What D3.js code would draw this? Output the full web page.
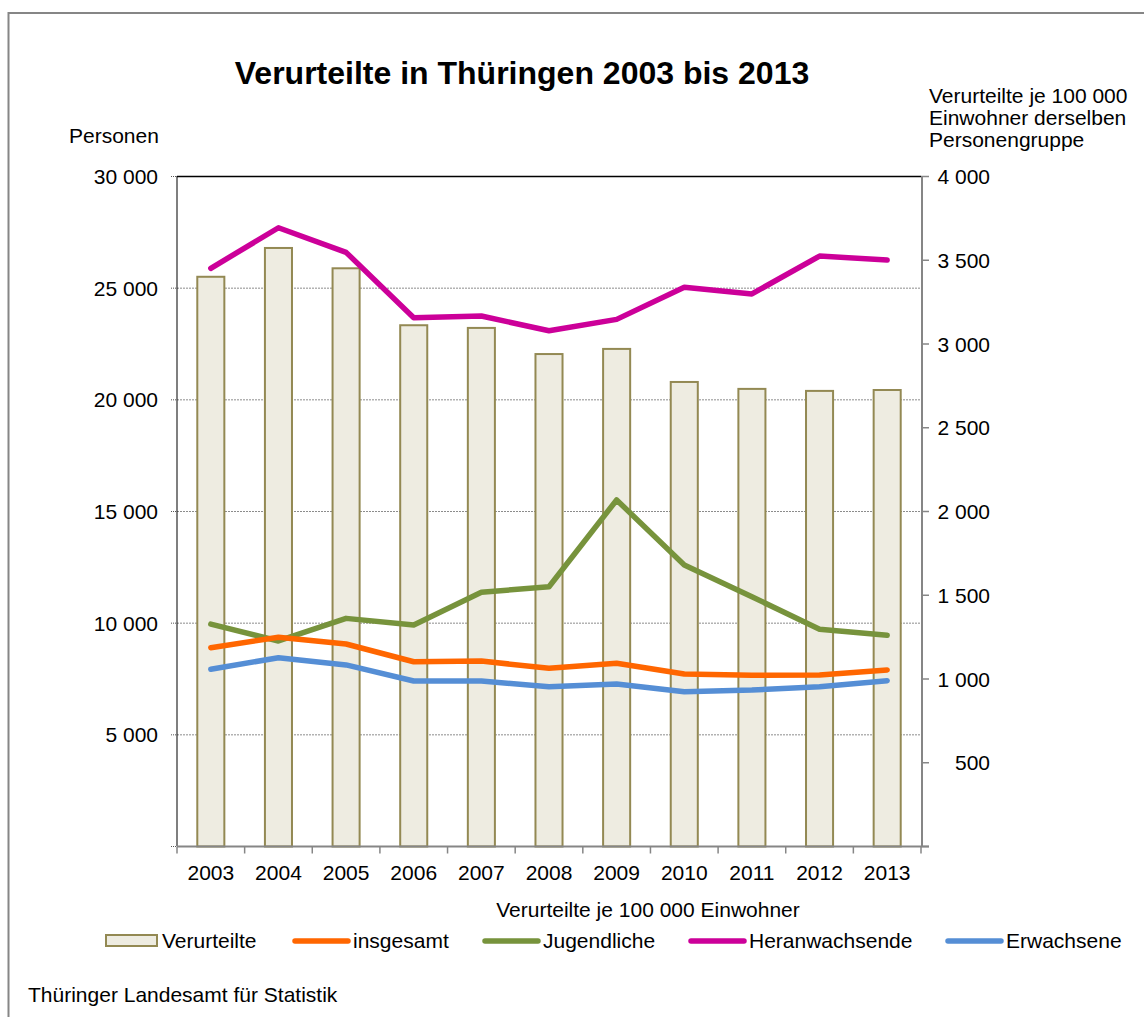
<!DOCTYPE html>
<html>
<head>
<meta charset="utf-8">
<script src="https://cdn.jsdelivr.net/npm/d3@7"></script>
<style>
  body { margin: 0; background: #fff; }
  svg text { font-family: "Liberation Sans", Arial, sans-serif; fill: #000; }
</style>
</head>
<body>
<div class="chart"></div>
<script>
// data
var years = ['2003','2004','2005','2006','2007','2008','2009','2010','2011','2012','2013'];
var verurteilte = [25510, 26800, 25890, 23340, 23220, 22050, 22280, 20800, 20490, 20400, 20440];
var insgesamt = [1187, 1249, 1209, 1103, 1107, 1064, 1094, 1030, 1022, 1024, 1054];
var jugendliche = [1328, 1227, 1362, 1322, 1518, 1551, 2069, 1681, 1491, 1297, 1261];
var heranwachsende = [3452, 3694, 3547, 3157, 3167, 3079, 3147, 3339, 3299, 3525, 3501];
var erwachsene = [1058, 1127, 1084, 988, 988, 954, 970, 924, 934, 954, 990];
var leftTicks = [0, 5000, 10000, 15000, 20000, 25000, 30000];
var rightTicks = [500, 1000, 1500, 2000, 2500, 3000, 3500, 4000];

var lineSeries = [
  {name: 'insgesamt', values: insgesamt, color: '#FF6600'},
  {name: 'Jugendliche', values: jugendliche, color: '#77933C'},
  {name: 'Heranwachsende', values: heranwachsende, color: '#CC0099'},
  {name: 'Erwachsene', values: erwachsene, color: '#558ED5'}
];

var W = 1144, H = 1017;
var m = {left: 177, right: 921, top: 176.5, bottom: 846.5};
var fs = '21px';

var svg = d3.select('.chart').append('svg')
  .attr('width', W)
  .attr('height', H);

// outer frame
svg.append('rect')
  .attr('x', 8.5).attr('y', 13)
  .attr('width', 1150).attr('height', 1020)
  .style('fill', 'none').style('stroke', '#868686').style('stroke-width', 2);

var xOuter = d3.scaleBand().domain(years).range([m.left, m.right]);
var yL = d3.scaleLinear().domain([0, 30000]).range([m.bottom, m.top]);
var yR = d3.scaleLinear().domain([0, 4000]).range([m.bottom, m.top]);

var fmt = function(v){ return d3.format(',')(v).replace(/,/g, ' '); };

// grid lines
svg.selectAll('line.grid')
  .data(leftTicks.filter(function(d){ return d > 0 && d < 30000; }))
  .enter().append('line')
  .attr('class', 'grid')
  .attr('x1', m.left).attr('x2', m.right)
  .attr('y1', function(d){ return yL(d); })
  .attr('y2', function(d){ return yL(d); })
  .style('stroke', '#8c8c8c').style('stroke-width', 1).style('stroke-dasharray', '2,1');

// bars
svg.selectAll('rect.bar')
  .data(verurteilte)
  .enter().append('rect')
  .attr('class', 'bar')
  .attr('x', function(d, i){ return xOuter(years[i]) + xOuter.bandwidth() * 0.3; })
  .attr('width', xOuter.bandwidth() * 0.4)
  .attr('y', function(d){ return yL(d); })
  .attr('height', function(d){ return m.bottom - yL(d); })
  .style('fill', '#EEECE1').style('stroke', '#938953').style('stroke-width', 2);

// top border
svg.append('line')
  .attr('x1', m.left).attr('x2', m.right)
  .attr('y1', m.top).attr('y2', m.top)
  .style('stroke', '#000').style('stroke-width', 1.5);

// left axis (dotted)
var leftAxis = svg.append('g');
leftAxis.append('line')
  .attr('x1', m.left).attr('x2', m.left)
  .attr('y1', m.top).attr('y2', m.bottom)
  .style('stroke', '#000').style('stroke-width', 2).style('stroke-dasharray', '1,1');
leftAxis.selectAll('line.tick')
  .data(leftTicks).enter().append('line')
  .attr('x1', m.left - 6).attr('x2', m.left)
  .attr('y1', function(d){ return yL(d); })
  .attr('y2', function(d){ return yL(d); })
  .style('stroke', '#555').style('stroke-width', 1).style('stroke-dasharray', '1,1');
leftAxis.selectAll('text')
  .data(leftTicks.filter(function(d){ return d > 0; })).enter().append('text')
  .attr('x', 158)
  .attr('y', function(d){ return yL(d) + 7.5; })
  .attr('text-anchor', 'end')
  .style('font-size', fs)
  .text(function(d){ return fmt(d); });

// right axis
var rightAxis = svg.append('g');
rightAxis.append('line')
  .attr('x1', m.right + 1).attr('x2', m.right + 1)
  .attr('y1', m.top).attr('y2', m.bottom)
  .style('stroke', '#868686').style('stroke-width', 2);
rightAxis.selectAll('line.tick')
  .data([0].concat(rightTicks)).enter().append('line')
  .attr('x1', m.right).attr('x2', m.right + 8)
  .attr('y1', function(d){ return yR(d); })
  .attr('y2', function(d){ return yR(d); })
  .style('stroke', '#868686').style('stroke-width', 1.5);
rightAxis.selectAll('text')
  .data(rightTicks).enter().append('text')
  .attr('x', 990)
  .attr('y', function(d){ return yR(d) + 7.5; })
  .attr('text-anchor', 'end')
  .style('font-size', fs)
  .text(function(d){ return fmt(d); });

// bottom axis
svg.append('line')
  .attr('x1', m.left).attr('x2', m.right + 8)
  .attr('y1', m.bottom).attr('y2', m.bottom)
  .style('stroke', '#868686').style('stroke-width', 2);
svg.selectAll('line.xtick')
  .data(years.concat(['end'])).enter().append('line')
  .attr('class', 'xtick')
  .attr('x1', function(d, i){ return m.left + i * xOuter.step(); })
  .attr('x2', function(d, i){ return m.left + i * xOuter.step(); })
  .attr('y1', m.bottom).attr('y2', m.bottom + 7)
  .style('stroke', '#868686').style('stroke-width', 1.5);
svg.selectAll('text.xlab')
  .data(years).enter().append('text')
  .attr('class', 'xlab')
  .attr('x', function(d){ return xOuter(d) + xOuter.bandwidth() / 2; })
  .attr('y', 880)
  .attr('text-anchor', 'middle')
  .style('font-size', fs)
  .text(function(d){ return d; });

// lines
var line = d3.line()
  .x(function(d, i){ return xOuter(years[i]) + xOuter.bandwidth() / 2; })
  .y(function(d){ return yR(d); });

svg.selectAll('path.series')
  .data([lineSeries[2], lineSeries[1], lineSeries[0], lineSeries[3]])
  .enter().append('path')
  .attr('class', 'series')
  .attr('d', function(d){ return line(d.values); })
  .style('fill', 'none')
  .style('stroke', function(d){ return d.color; })
  .style('stroke-width', 5.5)
  .style('stroke-linecap', 'round')
  .style('stroke-linejoin', 'round');

// titles
svg.append('text')
  .attr('x', 522).attr('y', 84)
  .attr('text-anchor', 'middle')
  .style('font-size', '32px').style('font-weight', 'bold')
  .text('Verurteilte in Thüringen 2003 bis 2013');

svg.append('text')
  .attr('x', 69).attr('y', 143)
  .style('font-size', fs)
  .text('Personen');

var rTitle = ['Verurteilte je 100 000', 'Einwohner derselben', 'Personengruppe'];
svg.selectAll('text.rtitle')
  .data(rTitle).enter().append('text')
  .attr('class', 'rtitle')
  .attr('x', 929)
  .attr('y', function(d, i){ return 103 + i * 22; })
  .style('font-size', fs)
  .text(function(d){ return d; });

svg.append('text')
  .attr('x', 648).attr('y', 917)
  .attr('text-anchor', 'middle')
  .style('font-size', fs)
  .text('Verurteilte je 100 000 Einwohner');

// legend
var lg = svg.append('g');
lg.append('rect')
  .attr('x', 106).attr('y', 935).attr('width', 51).attr('height', 11)
  .style('fill', '#EEECE1').style('stroke', '#938953').style('stroke-width', 2);
lg.append('text')
  .attr('x', 162).attr('y', 948)
  .style('font-size', fs)
  .text('Verurteilte');

var legendPos = [295, 485, 691, 948];
lg.selectAll('line.leg')
  .data(lineSeries).enter().append('line')
  .attr('x1', function(d, i){ return legendPos[i]; })
  .attr('x2', function(d, i){ return legendPos[i] + 53; })
  .attr('y1', 941).attr('y2', 941)
  .style('stroke', function(d){ return d.color; })
  .style('stroke-width', 5.5)
  .style('stroke-linecap', 'round');
lg.selectAll('text.leg')
  .data(lineSeries).enter().append('text')
  .attr('x', function(d, i){ return legendPos[i] + 58; })
  .attr('y', 948)
  .style('font-size', fs)
  .text(function(d){ return d.name; });

svg.append('text')
  .attr('x', 28).attr('y', 1002)
  .style('font-size', fs)
  .text('Thüringer Landesamt für Statistik');
</script>
</body>
</html>
